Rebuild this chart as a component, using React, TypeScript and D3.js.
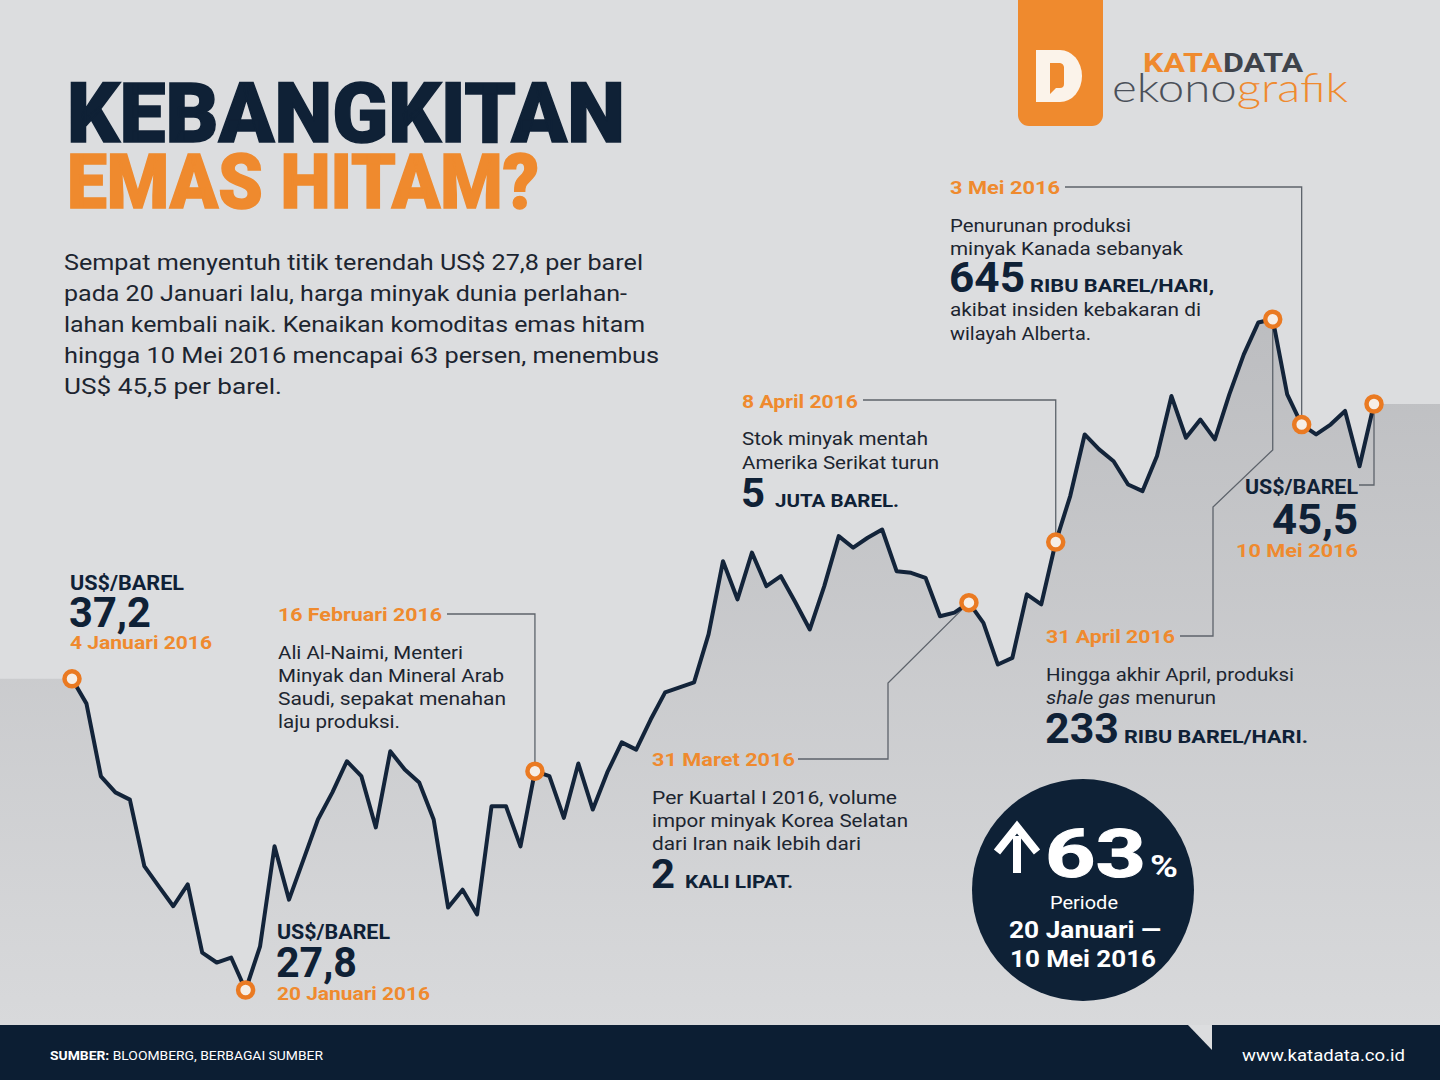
import React from "react";
import * as d3 from "d3";

// Brent-like daily prices, 4 Jan 2016 (index 0) .. 10 May 2016 (index 90), US$/barel
const prices = [
  37.2, 36.45, 34.25, 33.77, 33.55, 31.54, 30.93, 30.33, 30.99, 28.93,
  28.63, 28.78, 27.8, 29.12, 32.14, 30.53, 31.74, 32.95, 33.77, 34.71,
  34.26, 32.71, 35.01, 34.46, 34.07, 32.95, 30.29, 30.83, 30.08, 33.35,
  33.35, 32.14, 34.41, 34.26, 33.0, 34.64, 33.25, 34.37, 35.28, 35.06,
  35.97, 36.79, 36.94, 37.09, 38.54, 40.75, 39.6, 41.01, 40.0, 40.3,
  39.51, 38.69, 40.0, 41.51, 41.16, 41.46, 41.71, 40.45, 40.4, 40.25,
  39.09, 39.2, 39.5, 38.89, 37.63, 37.83, 39.75, 39.45, 41.33, 42.72,
  44.58, 44.13, 43.77, 43.07, 42.87, 43.93, 45.74, 44.48, 45.03, 44.43,
  45.79, 47.0, 47.96, 48.06, 45.79, 44.88, 44.58, 44.88, 45.29, 43.62,
  45.5,
];

// indices of highlighted days
const markerIdx = [0, 12, 32, 62, 68, 83, 85, 90];

const titleLines = ["KEBANGKITAN", "EMAS HITAM?"];
const introLines = [
  "Sempat menyentuh titik terendah US$ 27,8 per barel",
  "pada 20 Januari lalu, harga minyak dunia perlahan-",
  "lahan kembali naik. Kenaikan komoditas emas hitam",
  "hingga 10 Mei 2016 mencapai 63 persen, menembus",
  "US$ 45,5 per barel.",
];
const unitLabel = "US$/BAREL";
const startValue = "37,2";
const startDate = "4 Januari 2016";
const lowValue = "27,8";
const lowDate = "20 Januari 2016";
const endValue = "45,5";
const endDate = "10 Mei 2016";

const febDate = "16 Februari 2016";
const febLines = ["Ali Al-Naimi, Menteri", "Minyak dan Mineral Arab", "Saudi, sepakat menahan", "laju produksi."];
const marDate = "31 Maret 2016";
const marLines = ["Per Kuartal I 2016, volume", "impor minyak Korea Selatan", "dari Iran naik lebih dari"];
const marBig = ["2", "KALI LIPAT."];
const aprDate = "8 April 2016";
const aprLines = ["Stok minyak mentah", "Amerika Serikat turun"];
const aprBig = ["5", "JUTA BAREL."];
const meiDate = "3 Mei 2016";
const meiLines = ["Penurunan produksi", "minyak Kanada sebanyak"];
const meiBig = ["645", "RIBU BAREL/HARI,"];
const meiLines2 = ["akibat insiden kebakaran di", "wilayah Alberta."];
const aprEndDate = "31 April 2016";
const aprEndLine = "Hingga akhir April, produksi";
const aprEndBig = ["233", "RIBU BAREL/HARI."];

const badgeValue = "63";
const badgeLines = ["Periode", "20 Januari —", "10 Mei 2016"];
const sourceLabel = ["SUMBER:", " BLOOMBERG, BERBAGAI SUMBER"];
const siteLabel = "www.katadata.co.id";

const NAVY = "#0f2136";
const ORANGE = "#ef8a2e";
const TXT = "#1c2530";
const BG = "#dcdddf";
const FONT = "Roboto, 'Liberation Sans', Arial, sans-serif";

type TP = {
  x: number; y: number; s: number; w?: number; fw?: number; fill?: string;
  anchor?: "start" | "middle" | "end"; children: React.ReactNode; italic?: boolean; sw?: number;
};
function T({ x, y, s, w, fw = 400, fill = TXT, anchor = "start", children, italic, sw }: TP) {
  return (
    <text
      x={x}
      y={y}
      fontSize={s}
      fontWeight={fw}
      fill={fill}
      stroke={sw ? fill : undefined}
      strokeWidth={sw}
      textAnchor={anchor}
      fontFamily={FONT}
      fontStyle={italic ? "italic" : undefined}
      textLength={w}
      lengthAdjust={w ? "spacingAndGlyphs" : undefined}
    >
      {children}
    </text>
  );
}

export default function App() {
  const W = 1440, H = 1080, footerY = 1025;
  const x = d3.scaleLinear().domain([0, prices.length - 1]).range([72, 1374]);
  const y = d3.scaleLinear().domain([27.8, 45.5]).range([990, 404]);

  const pts: [number, number][] = prices.map((p, i) => [i, p]);
  const areaPts: [number, number][] = [
    [x.invert(0), prices[0]],
    ...pts,
    [x.invert(W), prices[prices.length - 1]],
  ];
  const area = d3
    .area<[number, number]>()
    .x((d) => x(d[0]))
    .y0(footerY)
    .y1((d) => y(d[1]))(areaPts) as string;
  const line = d3
    .line<[number, number]>()
    .x((d) => x(d[0]))
    .y((d) => y(d[1]))(pts) as string;

  const M = markerIdx.map((i) => [x(i), y(prices[i])] as [number, number]);
  const [, , mFeb, mMar, mApr, mAprEnd, mMei, mEnd] = M;
  const poly = (p: [number, number][]) => p.map((q) => q.join(",")).join(" ");
  const leaders: [number, number][][] = [
    [[447, 614], [mFeb[0], 614], mFeb],
    [[798, 759], [888, 759], [888, 683], mMar],
    [[863, 400], [mApr[0], 400], mApr],
    [[1180, 636], [1213, 636], [1213, 507], [mAprEnd[0], 450], mAprEnd],
    [[1065, 187], [mMei[0], 187], mMei],
    [[1359, 485], [mEnd[0], 485], mEnd],
  ];

  return (
    <svg width={W} height={H} style={{ position: "absolute", left: 0, top: 0, display: "block" }}>
      <defs>
        <linearGradient id="fillG" gradientUnits="userSpaceOnUse" x1="0" y1="310" x2="0" y2="1025">
          <stop offset="0" stopColor="#bcbdc0" />
          <stop offset="1" stopColor="#d8d9db" />
        </linearGradient>
      </defs>
      <rect width={W} height={H} fill={BG} />

      {/* area + line */}
      <path d={area} fill="url(#fillG)" />
      {leaders.map((l, i) => (
        <polyline key={i} points={poly(l)} fill="none" stroke="#5d636b" strokeWidth={1.3} />
      ))}
      <path d={line} fill="none" stroke="#13243a" strokeWidth={4} strokeLinejoin="round" strokeLinecap="round" />
      {M.map((m, i) => (
        <circle key={i} cx={m[0]} cy={m[1]} r={7.5} fill="#f6eee6" stroke="#ea7a22" strokeWidth={4.5} />
      ))}

      {/* logo */}
      <rect x={1018} y={-14} width={85} height={140} rx={11} fill={ORANGE} />
      <path d="M1036,50 H1060 A22,26 0 0 1 1060,102 H1036 Z" fill="#fbf3ea" />
      <path d="M1050,63 H1060 A5,5 0 0 1 1064,67 V84 A4,4 0 0 1 1060,88 H1056 L1050,94 Z" fill={ORANGE} />
      <text x={1143} y={72} fontSize={26} fontWeight={700} fontFamily={FONT} textLength={160} lengthAdjust="spacingAndGlyphs">
        <tspan fill={ORANGE}>KATA</tspan>
        <tspan fill="#3e434b">DATA</tspan>
      </text>
      <text x={1112} y={102} fontSize={39} fontWeight={300} fontFamily="Lato, Roboto, sans-serif" textLength={236} lengthAdjust="spacingAndGlyphs">
        <tspan fill="#4b5059">ekono</tspan>
        <tspan fill={ORANGE}>grafik</tspan>
      </text>

      {/* title */}
      <T x={67} y={142} s={84} fw={900} fill={NAVY} w={558} sw={1.5}>{titleLines[0]}</T>
      <T x={67} y={208} s={76} fw={900} fill={ORANGE} w={472} sw={1.5}>{titleLines[1]}</T>

      {/* intro */}
      {introLines.map((l, i) => (
        <T key={i} x={64} y={270 + i * 31} s={22} w={[579, 563, 581, 595, 218][i]}>{l}</T>
      ))}

      {/* start */}
      <T x={70} y={590} s={20} fw={700} fill={NAVY} w={114}>{unitLabel}</T>
      <T x={69} y={627} s={42} fw={700} fill={NAVY} w={82}>{startValue}</T>
      <T x={70} y={649} s={19} fw={700} fill={ORANGE} w={142}>{startDate}</T>

      {/* low */}
      <T x={277} y={939} s={20} fw={700} fill={NAVY} w={113}>{unitLabel}</T>
      <T x={276} y={977} s={42} fw={700} fill={NAVY} w={81}>{lowValue}</T>
      <T x={277} y={1000} s={19} fw={700} fill={ORANGE} w={153}>{lowDate}</T>

      {/* Feb */}
      <T x={278} y={621} s={19} fw={700} fill={ORANGE} w={164}>{febDate}</T>
      {febLines.map((l, i) => (
        <T key={i} x={278} y={659 + i * 23} s={19} w={[185, 226, 228, 122][i]}>{l}</T>
      ))}

      {/* Mar */}
      <T x={652} y={766} s={19} fw={700} fill={ORANGE} w={143}>{marDate}</T>
      {marLines.map((l, i) => (
        <T key={i} x={652} y={804 + i * 23} s={19} w={[245, 256, 209][i]}>{l}</T>
      ))}
      <T x={651} y={888} s={40} fw={700} fill={NAVY} w={24}>{marBig[0]}</T>
      <T x={685} y={888} s={19} fw={700} fill={NAVY} w={108}>{marBig[1]}</T>

      {/* Apr */}
      <T x={742} y={408} s={19} fw={700} fill={ORANGE} w={116}>{aprDate}</T>
      {aprLines.map((l, i) => (
        <T key={i} x={742} y={445 + i * 24} s={19} w={[186, 197][i]}>{l}</T>
      ))}
      <T x={741} y={507} s={40} fw={700} fill={NAVY} w={24}>{aprBig[0]}</T>
      <T x={775} y={507} s={19} fw={700} fill={NAVY} w={124}>{aprBig[1]}</T>

      {/* Mei */}
      <T x={950} y={194} s={19} fw={700} fill={ORANGE} w={110}>{meiDate}</T>
      {meiLines.map((l, i) => (
        <T key={i} x={950} y={232 + i * 23} s={19} w={[181, 233][i]}>{l}</T>
      ))}
      <T x={949} y={292} s={42} fw={700} fill={NAVY} w={76}>{meiBig[0]}</T>
      <T x={1030} y={292} s={19} fw={700} fill={NAVY} w={184}>{meiBig[1]}</T>
      {meiLines2.map((l, i) => (
        <T key={i} x={950} y={316 + i * 24} s={19} w={[251, 141][i]}>{l}</T>
      ))}

      {/* end of April */}
      <T x={1046} y={643} s={19} fw={700} fill={ORANGE} w={129}>{aprEndDate}</T>
      <T x={1046} y={681} s={19} w={248}>{aprEndLine}</T>
      <text x={1046} y={704} fontSize={19} fill={TXT} fontFamily={FONT} textLength={170} lengthAdjust="spacingAndGlyphs">
        <tspan fontStyle="italic">shale gas</tspan>
        <tspan> menurun</tspan>
      </text>
      <T x={1045} y={743} s={42} fw={700} fill={NAVY} w={74}>{aprEndBig[0]}</T>
      <T x={1124} y={743} s={19} fw={700} fill={NAVY} w={184}>{aprEndBig[1]}</T>

      {/* end */}
      <T x={1358} y={494} s={20} fw={700} fill={NAVY} w={113} anchor="end">{unitLabel}</T>
      <T x={1358} y={534} s={42} fw={700} fill={NAVY} w={86} anchor="end">{endValue}</T>
      <T x={1358} y={557} s={19} fw={700} fill={ORANGE} w={122} anchor="end">{endDate}</T>

      {/* badge */}
      <circle cx={1083} cy={890} r={111} fill="#0e2136" />
      <path d="M1017,873 V836" stroke="#fff" strokeWidth={8} />
      <path d="M997,852 L1017,827 L1037,852" fill="none" stroke="#fff" strokeWidth={8} strokeLinejoin="miter" />
      <T x={1045} y={877} s={66} fw={700} fill="#fff" w={101} sw={1}>{badgeValue}</T>
      <T x={1150} y={877} s={32} fw={700} fill="#fff" w={28}>%</T>
      <T x={1084} y={909} s={19} fill="#fff" anchor="middle" w={68}>{badgeLines[0]}</T>
      <T x={1085} y={938} s={23} fw={700} fill="#fff" anchor="middle" w={152}>{badgeLines[1]}</T>
      <T x={1083} y={967} s={23} fw={700} fill="#fff" anchor="middle" w={146}>{badgeLines[2]}</T>

      {/* footer */}
      <rect x={0} y={footerY} width={W} height={H - footerY} fill="#0c1e33" />
      <polygon points={`1188,${footerY} 1212,${footerY} 1212,${footerY + 25}`} fill={BG} />
      <text x={50} y={1060} fontSize={12} fill="#fff" fontFamily={FONT} textLength={273} lengthAdjust="spacingAndGlyphs">
        <tspan fontWeight={700}>{sourceLabel[0]}</tspan>
        <tspan>{sourceLabel[1]}</tspan>
      </text>
      <T x={1405} y={1061} s={16} fill="#fff" anchor="end" w={163}>{siteLabel}</T>
    </svg>
  );
}
